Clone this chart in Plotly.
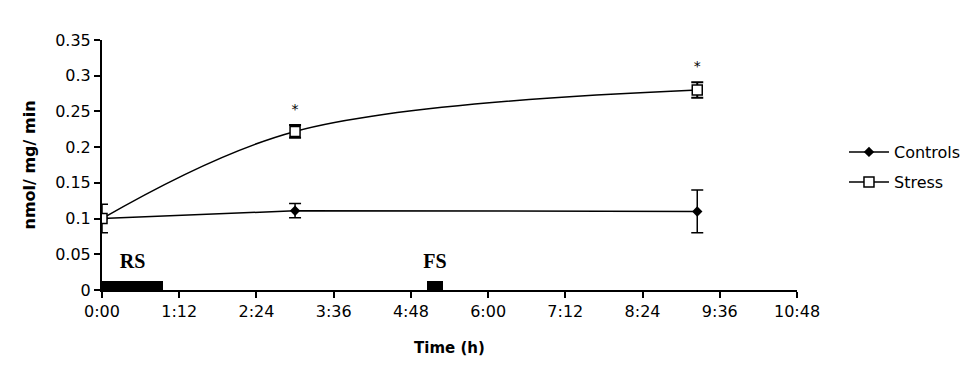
import plotly.graph_objects as go

# Data (time in hours)
time_h = [0, 3.0, 9.25]
controls = [0.10, 0.111, 0.11]
controls_err = [0.02, 0.01, 0.03]
stress = [0.10, 0.222, 0.28]
stress_err = [0.0, 0.009, 0.011]
stress_sig = ["", "*", "*"]

stim_labels = ["RS", "FS"]
stim_start = [0.0, 5.05]
stim_end = [0.95, 5.3]
stim_height = [0.013, 0.013]

xtick_vals = [0, 1.2, 2.4, 3.6, 4.8, 6.0, 7.2, 8.4, 9.6, 10.8]
xtick_text = ["0:00", "1:12", "2:24", "3:36", "4:48", "6:00", "7:12", "8:24", "9:36", "10:48"]
ytick_vals = [0, 0.05, 0.1, 0.15, 0.2, 0.25, 0.3, 0.35]
ytick_text = ["0", "0.05", "0.1", "0.15", "0.2", "0.25", "0.3", "0.35"]

FONT = "DejaVu Sans, Liberation Sans, Arial, sans-serif"

fig = go.Figure()

# stimulation bars
fig.add_trace(go.Bar(
    x=[(s + e) / 2 for s, e in zip(stim_start, stim_end)],
    y=stim_height,
    width=[e - s for s, e in zip(stim_start, stim_end)],
    base=0,
    marker=dict(color="black", line=dict(width=0)),
    showlegend=False, hoverinfo="skip",
))

fig.add_trace(go.Scatter(
    x=time_h, y=controls, name="Controls", mode="lines+markers",
    line=dict(color="black", width=1.5),
    marker=dict(symbol="diamond", size=8, color="black"),
    error_y=dict(type="data", array=controls_err, color="black", thickness=1.5, width=6),
    legend="legend",
))

fig.add_trace(go.Scatter(
    x=time_h, y=stress, name="Stress", mode="lines+markers",
    line=dict(color="black", width=1.5, shape="spline", smoothing=1.0),
    marker=dict(symbol="square", size=10, color="white", line=dict(color="black", width=1.5)),
    error_y=dict(type="data", array=stress_err, color="black", thickness=2, width=6),
    legend="legend2",
))

# significance asterisks
fig.add_trace(go.Scatter(
    x=time_h, y=[v + e + 0.021 for v, e in zip(stress, stress_err)],
    mode="text", text=stress_sig, textposition="middle center",
    textfont=dict(family=FONT, size=14, color="black"),
    showlegend=False, hoverinfo="skip",
))

# stimulation labels
fig.add_trace(go.Scatter(
    x=[(s + e) / 2 for s, e in zip(stim_start, stim_end)],
    y=[h + 0.025 for h in stim_height],
    mode="text", text=["<b>%s</b>" % l for l in stim_labels],
    textfont=dict(family="Liberation Serif, Times New Roman, serif", size=20, color="black"),
    showlegend=False, hoverinfo="skip",
))

legend_common = dict(xanchor="left", yanchor="middle",
                     font=dict(family=FONT, size=16, color="black"),
                     bgcolor="rgba(0,0,0,0)", itemwidth=40)

fig.update_layout(
    width=971, height=383,
    margin=dict(l=94, r=182, t=32, b=101),
    paper_bgcolor="white", plot_bgcolor="white",
    font=dict(family=FONT, size=16, color="black"),
    bargap=0,
    legend=dict(x=1.0676, y=0.552, **legend_common),
    legend2=dict(x=1.0676, y=0.432, **legend_common),
    xaxis=dict(range=[0, 10.8], tickvals=xtick_vals, ticktext=xtick_text,
               showline=True, linecolor="black", linewidth=2, ticks="outside",
               tickcolor="black", tickwidth=2, ticklen=6, showgrid=False, zeroline=False,
               tickfont=dict(size=16),
               title=dict(text="<b>Time (h)</b>", font=dict(size=15), standoff=22)),
    yaxis=dict(range=[0, 0.35], tickvals=ytick_vals, ticktext=ytick_text,
               showline=True, linecolor="black", linewidth=2, ticks="outside",
               tickcolor="black", tickwidth=2, ticklen=6, showgrid=False, zeroline=False,
               tickfont=dict(size=16),
               title=dict(text="<b>nmol/ mg/ min</b>", font=dict(size=16), standoff=16)),
)

fig.write_html("out.html")
